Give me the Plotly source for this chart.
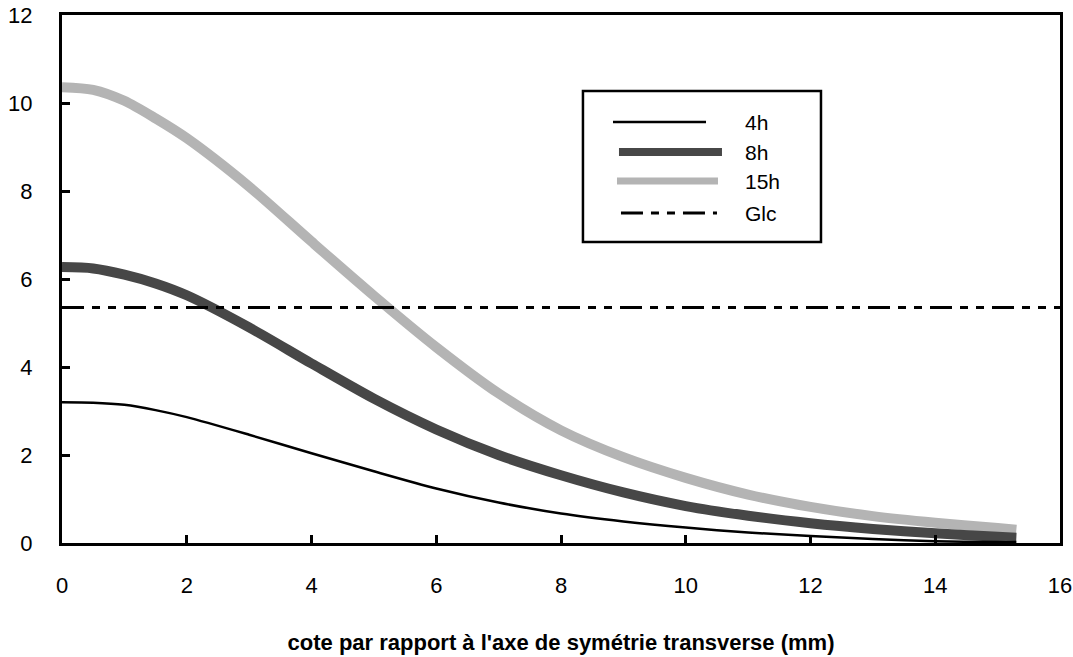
import plotly.graph_objects as go

# ---- data ----
x_mm = [0, 0.5, 1, 1.5, 2, 3, 4, 5, 6, 7, 8, 9, 10, 11, 12, 13, 14, 15, 15.3]
y_4h = [3.2, 3.19, 3.14, 3.02, 2.86, 2.46, 2.04, 1.63, 1.24, 0.92, 0.67, 0.49, 0.35, 0.24, 0.16, 0.09, 0.04, 0.02, 0.02]
y_8h = [6.27, 6.24, 6.1, 5.9, 5.63, 4.9, 4.08, 3.28, 2.58, 2.0, 1.54, 1.15, 0.84, 0.62, 0.45, 0.32, 0.22, 0.14, 0.12]
y_15h = [10.36, 10.3, 10.05, 9.65, 9.2, 8.1, 6.85, 5.62, 4.45, 3.4, 2.56, 1.95, 1.48, 1.1, 0.82, 0.61, 0.46, 0.34, 0.3]
glc_x = [0, 16]
glc_value = 5.35

series_names = ["4h", "8h", "15h", "Glc"]
x_ticks = [0, 2, 4, 6, 8, 10, 12, 14, 16]
y_ticks = [0, 2, 4, 6, 8, 10, 12]
x_title = "cote par rapport à l'axe de symétrie transverse (mm)"

FONT = "Liberation Sans, Arial, sans-serif"
GLC_DASH = "22px,8px,8px,8px,8px,8px"
C8 = "#474747"
C15 = "#b4b4b4"

fig = go.Figure()
fig.add_trace(go.Scatter(x=x_mm, y=y_15h, mode="lines", name=series_names[2],
                         line=dict(color=C15, width=10, shape="spline", smoothing=0.8), showlegend=False))
fig.add_trace(go.Scatter(x=x_mm, y=y_8h, mode="lines", name=series_names[1],
                         line=dict(color=C8, width=10, shape="spline", smoothing=0.8), showlegend=False))
fig.add_trace(go.Scatter(x=x_mm, y=y_4h, mode="lines", name=series_names[0],
                         line=dict(color="black", width=2.5, shape="spline", smoothing=0.8), showlegend=False))
fig.add_trace(go.Scatter(x=glc_x, y=[glc_value] * len(glc_x), mode="lines", name=series_names[3],
                         line=dict(color="black", width=3, dash=GLC_DASH), showlegend=False))

# ---- hand-drawn legend box (paper coordinates) ----
shapes = [dict(type="rect", xref="paper", yref="paper", x0=0.522, x1=0.7605, y0=0.5701, y1=0.8561,
               line=dict(color="black", width=2.5), fillcolor="white", layer="above")]
legend_rows = [
    (series_names[0], 0.5521, 0.6453, 0.7973, dict(color="black", width=2.5)),
    (series_names[1], 0.5581, 0.6613, 0.7405, dict(color=C8, width=8)),
    (series_names[2], 0.5561, 0.6573, 0.6856, dict(color=C15, width=7)),
    (series_names[3], 0.5601, 0.6563, 0.6250, dict(color="black", width=3, dash=GLC_DASH)),
]
annotations = []
for name, x0, x1, yy, ln in legend_rows:
    shapes.append(dict(type="line", xref="paper", yref="paper", x0=x0, x1=x1, y0=yy, y1=yy,
                       line=ln, layer="above"))
    annotations.append(dict(text=name, xref="paper", yref="paper", x=0.6824, y=yy,
                            xanchor="left", yanchor="middle", showarrow=False,
                            font=dict(family=FONT, size=21, color="black")))

axis_common = dict(showgrid=False, zeroline=False, showline=True, linecolor="black", linewidth=3,
                   mirror=True, ticks="inside", ticklen=8, tickwidth=2.5, tickcolor="black",
                   ticklabeloverflow="allow",
                   tickfont=dict(family=FONT, size=22, color="black"), automargin=False)

fig.update_layout(
    width=1073, height=657,
    margin=dict(l=62, r=13, t=15, b=114),
    paper_bgcolor="white", plot_bgcolor="white",
    font=dict(family=FONT, size=22, color="black"),
    showlegend=False,
    shapes=shapes, annotations=annotations,
    xaxis=dict(range=[0, 16], tickvals=x_ticks, ticklabelstandoff=21,
               title=dict(text="<b>" + x_title + "</b>", standoff=38,
                          font=dict(family=FONT, size=22, color="black")),
               **axis_common),
    yaxis=dict(range=[0, 12], tickvals=y_ticks, ticklabelstandoff=22, **axis_common),
)

# remove the default 8px page margin so the figure fills the window exactly
fig.write_html("out.html",
               config={"displayModeBar": False},
               post_script="document.body.style.margin='0';document.body.style.overflow='hidden';")
